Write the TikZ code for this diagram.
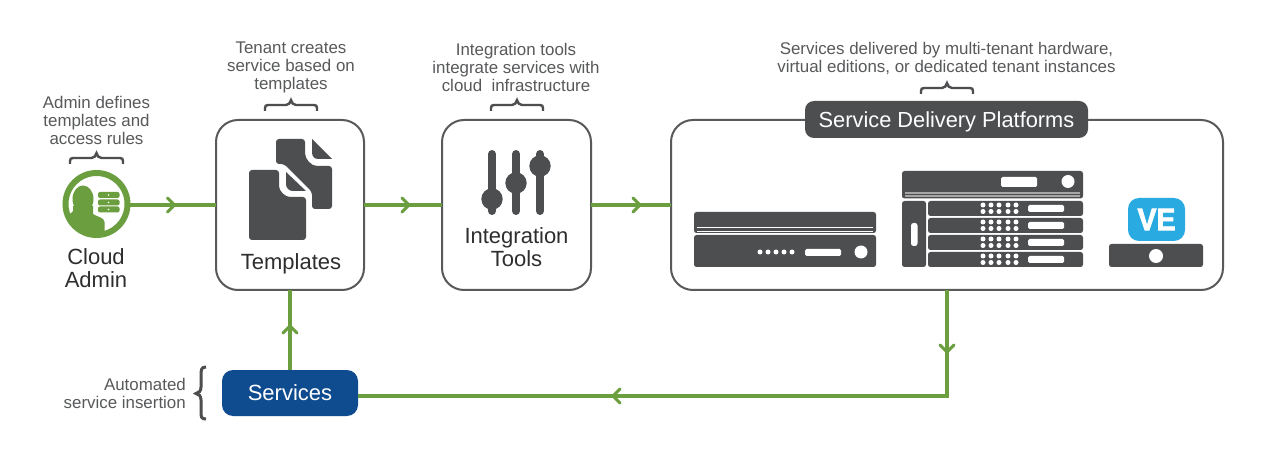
\documentclass[tikz,border=0pt]{standalone}
\usepackage{fontspec}
\setmainfont{Liberation Sans}
\usetikzlibrary{decorations.markings,calc}
\definecolor{gn}{HTML}{6A9E3F}
\definecolor{dk}{HTML}{4D4E50}
\definecolor{tx}{HTML}{58595B}
\definecolor{bk}{HTML}{2E2E30}
\definecolor{nv}{HTML}{0F4C8F}
\definecolor{cy}{HTML}{29ABE2}
\newfontfamily\vefont[FakeBold=2.5,FakeStretch=0.92]{Liberation Sans Bold}
\newcommand{\chevtip}{\draw[gn,line width=3pt,line cap=round,line join=miter] (-7,-7)--(0,0)--(-7,7);}
\newcommand{\topbrace}[3]{%
\draw[dk,line width=2.4pt] (#1,#3+11) -- (#1,#3+8) .. controls (#1,#3+6) and (#1+1,#3+5) .. (#1+3,#3+5) -- ({(#1+#2)/2-5},#3+5) .. controls ({(#1+#2)/2-2},#3+5) and ({(#1+#2)/2-1},#3+3) .. ({(#1+#2)/2},#3) .. controls ({(#1+#2)/2+1},#3+3) and ({(#1+#2)/2+2},#3+5) .. ({(#1+#2)/2+5},#3+5) -- (#2-3,#3+5) .. controls (#2-1,#3+5) and (#2,#3+6) .. (#2,#3+8) -- (#2,#3+11);}
\tikzset{
  x=1pt,y=-1pt,
  flow/.style={draw=gn,line width=4pt},
  chev/.style={postaction={decorate,decoration={markings,mark=at position #1 with {\chevtip}}}},
  panel/.style={draw=tx,line width=2pt,fill=white,rounded corners=22pt,inner sep=0pt,outer sep=0pt},
  note/.style={text=tx,align=center,inner sep=0pt,font=\fontsize{16.9}{18}\selectfont},
  title/.style={text=bk,align=center,inner sep=0pt,font=\fontsize{22}{23.5}\selectfont},
  dev/.style={fill=dk,rounded corners=2.5pt},
  hole/.style={fill=white,rounded corners=1.5pt},
}
\newcommand{\rowdots}[1]{%
\foreach \dx in {983,991,999,1008,1016}{\fill[white] (\dx,#1+4) circle (2.5); \fill[white] (\dx,#1+10.5) circle (2.5);}
\fill[hole] (1028,#1+4) rectangle (1064,#1+11);}
\begin{document}
\begin{tikzpicture}
\useasboundingbox (0,0) rectangle (1264,462);
\fill[white] (0,0) rectangle (1264,462);
% boxes
\node[panel,minimum width=148pt,minimum height=170pt] (tpl) at (290,205) {};
\node[panel,minimum width=149pt,minimum height=170pt] (int) at (516.5,205) {};
\node[panel,minimum width=552pt,minimum height=170pt] (sdp) at (947,205) {};
\node[fill=dk,rounded corners=9pt,text=white,inner sep=0pt,outer sep=0pt,minimum width=283pt,minimum height=37pt,text height=16pt,text depth=0.8pt,font=\fontsize{21.8}{24}\selectfont] (sdpt) at (946.5,119.5) {Service Delivery Platforms};
\node[fill=nv,rounded corners=11pt,text=white,inner sep=0pt,outer sep=0pt,minimum width=136pt,minimum height=46pt,font=\fontsize{22}{24}\selectfont] (svc) at (290,393) {Services};
\node[circle,draw=gn,line width=6pt,fill=white,inner sep=0pt,outer sep=0pt,minimum size=62pt] (adm) at (96.5,204) {};
\coordinate (corner) at (947,396);
% connectors
\draw[flow,chev=47pt] (adm.east |- tpl.west) -- (tpl.west);
\draw[flow,chev=45pt] (tpl.east) -- (int.west);
\draw[flow,chev=49pt] (int.east) -- (sdp.west);
\draw[flow,chev=44pt] (svc.north) -- (tpl.south);
\draw[flow,chev=62pt,chev=440pt] (sdp.south -| corner) -- (corner) -- (svc.east |- corner);
% admin icon
\begin{scope}
\clip (96.5,204) circle (29);
\fill[gn] (83,199) ellipse (10.5 and 13.5);
\fill[gn] (73,206) -- (93,206) -- (93,214) .. controls (97,217) and (104,217) .. (104.5,222) -- (104.5,240) -- (60,240) -- (60,218) .. controls (66,216) and (71,214) .. (73,211) -- cycle;
\end{scope}
\foreach \yy in {195,202.5,209.5}{
  \fill[gn,rounded corners=2pt] (98,\yy-3) rectangle (119.5,\yy+3);
  \fill[white] (108.5,\yy) circle (0.9);
}
% document icon
\fill[dk,rounded corners=3pt] (276,164) -- (276,139) -- (305,139) -- (305,150) .. controls (305,159) and (311,166) .. (320,166) -- (332,166) -- (332,209) -- (312,209) -- (312,192) -- (284,164) -- cycle;
\fill[dk] (312,139) -- (332,159) -- (318,159) .. controls (314,159) and (312,156) .. (312,152) -- cycle;
\fill[dk,rounded corners=3pt] (249,240) -- (249,170) -- (279,170) -- (279,183) .. controls (279,191) and (285,197) .. (293,197) -- (306,197) -- (306,240) -- cycle;
\fill[dk] (286,172) -- (306,191) -- (293,191) .. controls (289,191) and (286,188) .. (286,184) -- cycle;
% sliders
\foreach \sx/\sy in {492/199,516/183,540/166}{
  \draw[dk,line width=8pt,line cap=round] (\sx,154) -- (\sx,211);
  \fill[dk] (\sx,\sy) circle (10.7);
}
% device 1
\fill[dev] (694,212) rectangle (876,233);
\draw[white,line width=0.9pt] (697,227) -- (873,227) (697,231) -- (873,231);
\fill[dev] (694,235) rectangle (876,267);
\foreach \dx in {760,768,776,784,792}{\fill[white] (\dx,252) circle (2.5);}
\fill[hole] (805,249) rectangle (841,256);
\fill[white] (861,252) circle (6.5);
% device 2
\fill[dev] (902,171) rectangle (1083,198.5);
\draw[gray!70,line width=1.2pt] (905,193) -- (1080,193) (905,196) -- (1080,196);
\fill[hole] (1001,177) rectangle (1037,187);
\fill[white] (1068,181.5) circle (6.5);
\fill[dev] (902,201) rectangle (926,267);
\fill[white,rounded corners=2.5pt] (911,223) rectangle (917.5,246);
\foreach \ry in {201,218,235,252}{
  \fill[dev] (928,\ry) rectangle (1083,\ry+15);
  \rowdots{\ry}
}
% VE
\node[fill=cy,rounded corners=11pt,minimum width=57pt,minimum height=43pt,inner sep=0pt,text=white,font=\fontsize{31}{31}\vefont] (ve) at (1156.5,219.5) {VE};
\fill[dev] (1109,244) rectangle (1203,267);
\fill[white] (1156,256) circle (7);
% braces
\topbrace{70}{123}{153}
\topbrace{265}{317}{100}
\topbrace{491}{543}{100}
\topbrace{921}{973}{83}
\draw[dk,line width=3pt] (206,367) .. controls (201,367) and (201,370) .. (201,376) -- (201,387) .. controls (201,391) and (199,393) .. (196,393.5) .. controls (199,394) and (201,396) .. (201,400) -- (201,411) .. controls (201,417) and (201,419) .. (206,419);
% texts
\node[note] (t1) at (96.5,120.5) {Admin defines\\templates and\\access rules};
\node[note] (t2) at (291,67) {Tenant creates\\service based on\\templates};
\node[note] (t3) at (516,67) {Integration tools\\integrate services with\\cloud\ \ infrastructure};
\node[note] (t4) at (946.5,58) {Services delivered by multi-tenant hardware,\\virtual editions, or dedicated tenant instances};
\node[note,align=right,anchor=east] (t5) at (186,393) {Automated\\service insertion};
\node[title] (t6) at (96,268) {Cloud\\Admin};
\node[title] (t7) at (291,263.5) {Templates};
\node[title] (t8) at (516.5,247) {Integration\\Tools};
\end{tikzpicture}
\end{document}
